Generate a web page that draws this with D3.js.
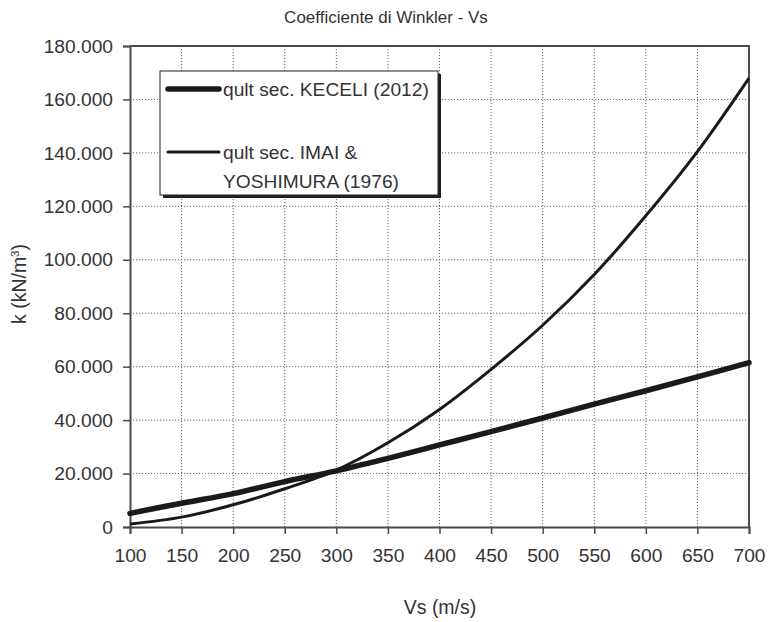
<!DOCTYPE html>
<html>
<head>
<meta charset="utf-8">
<script src="https://cdn.jsdelivr.net/npm/d3@7"></script>
<style>
  html, body { margin: 0; padding: 0; background: #fff; }
  svg { display: block; font-family: "Liberation Sans", Arial, sans-serif; }
</style>
</head>
<body>
<svg id="chart" width="768" height="622"></svg>
<script>
// Shear-wave velocity values (m/s)
const vs = [100, 150, 200, 250, 300, 350, 400, 450, 500, 550, 600, 650, 700];
// Winkler coefficient k (kN/m3), ultimate section, Keceli (2012)
const kKeceli = [5100, 8900, 12500, 17000, 21000, 25700, 30700, 35700, 40800, 46000, 51000, 56200, 61500];
// Winkler coefficient k (kN/m3), ultimate section, Imai & Yoshimura (1976)
const kImai = [1100, 3700, 8300, 14300, 21300, 31500, 44000, 59000, 75500, 94500, 116500, 140500, 168000];

const xTicks = [100, 150, 200, 250, 300, 350, 400, 450, 500, 550, 600, 650, 700];
const yTicks = [0, 20000, 40000, 60000, 80000, 100000, 120000, 140000, 160000, 180000];
const yTickLabels = ["0", "20.000", "40.000", "60.000", "80.000", "100.000", "120.000", "140.000", "160.000", "180.000"];

const titleText = "Coefficiente di Winkler - Vs";
const xLabel = "Vs (m/s)";
const legendLabels = [["qult sec. KECELI (2012)"], ["qult sec. IMAI &", "YOSHIMURA (1976)"]];

const svg = d3.select("#chart");
const m = { left: 130, right: 749, top: 46, bottom: 527 };

const x = d3.scaleLinear().domain([100, 700]).range([m.left, m.right]);
const y = d3.scaleLinear().domain([0, 180000]).range([m.bottom, m.top]);

const textColor = "#333";
const axisColor = "#4a4a4a";
const tickFont = 19.2;

// Grid
const grid = svg.append("g");
grid.selectAll("line.vg").data(xTicks.slice(1, -1)).join("line")
  .attr("x1", d => x(d)).attr("x2", d => x(d))
  .attr("y1", m.top).attr("y2", m.bottom)
  .attr("stroke", "#666").attr("stroke-width", 1).attr("stroke-dasharray", "1.2,1.8");
grid.selectAll("line.hg").data(yTicks.slice(1, -1)).join("line")
  .attr("x1", m.left).attr("x2", m.right)
  .attr("y1", d => y(d)).attr("y2", d => y(d))
  .attr("stroke", "#666").attr("stroke-width", 1).attr("stroke-dasharray", "1.2,1.8");

// Plot frame (top and right)
svg.append("path")
  .attr("d", `M${m.left},${m.top}H${m.right}V${m.bottom}`)
  .attr("fill", "none").attr("stroke", axisColor).attr("stroke-width", 2);

// Axes
const xAxis = d3.axisBottom(x).tickValues(xTicks).tickSize(7).tickPadding(14).tickFormat(d3.format("d"));
const gx = svg.append("g").attr("transform", `translate(0,${m.bottom})`).call(xAxis);
gx.select(".domain").attr("stroke", axisColor).attr("stroke-width", 2);
gx.selectAll(".tick line").attr("stroke", axisColor).attr("stroke-width", 1.5);
gx.selectAll(".tick text").attr("fill", textColor).attr("font-size", tickFont)
  .attr("font-family", "Liberation Sans, Arial, sans-serif");

const yAxis = d3.axisLeft(y).tickValues(yTicks).tickSize(7).tickPadding(10)
  .tickFormat((d, i) => yTickLabels[i]);
const gy = svg.append("g").attr("transform", `translate(${m.left},0)`).call(yAxis);
gy.select(".domain").attr("stroke", axisColor).attr("stroke-width", 2);
gy.selectAll(".tick line").attr("stroke", axisColor).attr("stroke-width", 1.5);
gy.selectAll(".tick text").attr("fill", textColor).attr("font-size", tickFont)
  .attr("font-family", "Liberation Sans, Arial, sans-serif");

// Series (smoothed lines)
const line = d3.line().x(d => x(d[0])).y(d => y(d[1])).curve(d3.curveCatmullRom.alpha(0.5));
svg.append("path").datum(vs.map((v, i) => [v, kImai[i]]))
  .attr("d", line).attr("fill", "none").attr("stroke", "#1a1a1a")
  .attr("stroke-width", 3).attr("stroke-linejoin", "round");
svg.append("path").datum(vs.map((v, i) => [v, kKeceli[i]]))
  .attr("d", line).attr("fill", "none").attr("stroke", "#1a1a1a")
  .attr("stroke-width", 5.5).attr("stroke-linejoin", "round").attr("stroke-linecap", "round");

// Title
svg.append("text").attr("x", 386).attr("y", 23).attr("text-anchor", "middle")
  .attr("fill", textColor).attr("font-size", 17).text(titleText);

// Axis titles
svg.append("text").attr("x", 440).attr("y", 614).attr("text-anchor", "middle")
  .attr("fill", textColor).attr("font-size", 19.5).text(xLabel);

const yl = svg.append("text").attr("transform", "translate(26,284) rotate(-90)")
  .attr("text-anchor", "middle").attr("fill", textColor).attr("font-size", 19.5);
yl.append("tspan").text("k  (kN/m");
yl.append("tspan").attr("font-size", 11.5).attr("dy", -7).text("3");
yl.append("tspan").attr("dy", 7).text(")");

// Legend
const lg = svg.append("g");
lg.append("rect").attr("x", 163).attr("y", 74).attr("width", 278).attr("height", 124).attr("fill", "#222");
lg.append("rect").attr("x", 160).attr("y", 71).attr("width", 278).attr("height", 124)
  .attr("fill", "#fff").attr("stroke", "#222").attr("stroke-width", 1);
lg.append("line").attr("x1", 168).attr("x2", 219).attr("y1", 89).attr("y2", 89)
  .attr("stroke", "#1a1a1a").attr("stroke-width", 5.5).attr("stroke-linecap", "round");
lg.append("line").attr("x1", 168).attr("x2", 219).attr("y1", 152).attr("y2", 152)
  .attr("stroke", "#1a1a1a").attr("stroke-width", 3).attr("stroke-linecap", "round");
lg.append("text").attr("x", 223).attr("y", 96).attr("fill", textColor).attr("font-size", 19.2)
  .text(legendLabels[0][0]);
const t2 = lg.append("text").attr("x", 223).attr("y", 159).attr("fill", textColor).attr("font-size", 19.2);
t2.append("tspan").attr("x", 223).text(legendLabels[1][0]);
t2.append("tspan").attr("x", 223).attr("dy", 29).text(legendLabels[1][1]);
</script>
</body>
</html>
